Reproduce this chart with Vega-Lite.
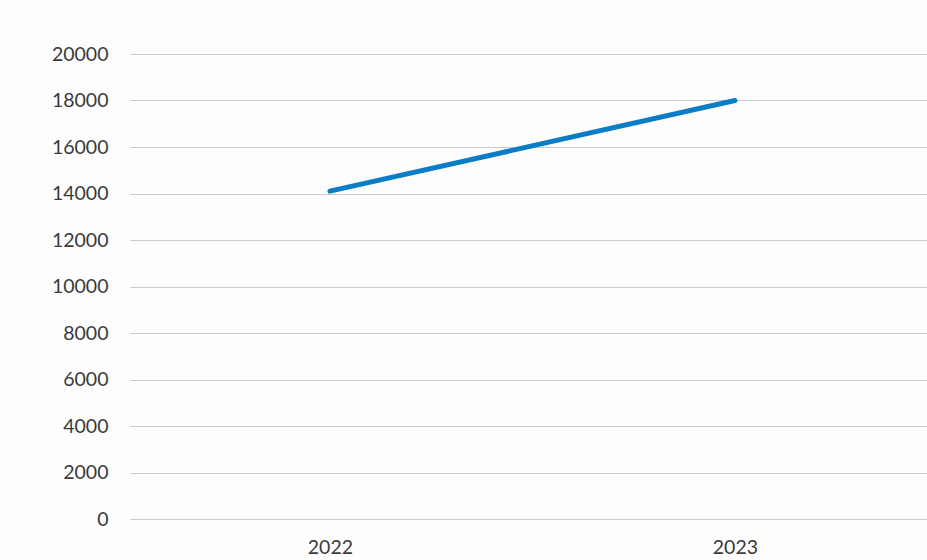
{
  "$schema": "https://vega.github.io/schema/vega-lite/v6.json",
  "autosize": {"type": "none"},
  "padding": {"left": 130, "top": 54, "right": 0, "bottom": 41},
  "width": 797,
  "height": 465,
  "background": "#fdfdfd",
  "config": {
    "view": {"stroke": null},
    "font": "Lato",
    "axis": {"labelFont": "Lato", "labelFontSize": 19.5, "labelColor": "#3a3a3a"}
  },
  "data": {"values": [
    {"year": "2022", "value": 14100},
    {"year": "2023", "value": 18000}
  ]},
  "mark": {"type": "line", "color": "#0b7dc6", "strokeWidth": 5, "strokeCap": "round"},
  "encoding": {
    "x": {
      "field": "year", "type": "ordinal",
      "scale": {"type": "point", "padding": 0.484, "align": 0.51},
      "axis": {"title": null, "labelAngle": 0, "domain": false, "ticks": false, "labelPadding": 19, "grid": false}
    },
    "y": {
      "field": "value", "type": "quantitative",
      "scale": {"domain": [0, 20000], "nice": false},
      "axis": {"title": null, "values": [0,2000,4000,6000,8000,10000,12000,14000,16000,18000,20000], "format": "d", "domain": false, "ticks": false, "labelPadding": 22, "gridColor": "#c9cdd2", "gridWidth": 1.2}
    }
  }
}
